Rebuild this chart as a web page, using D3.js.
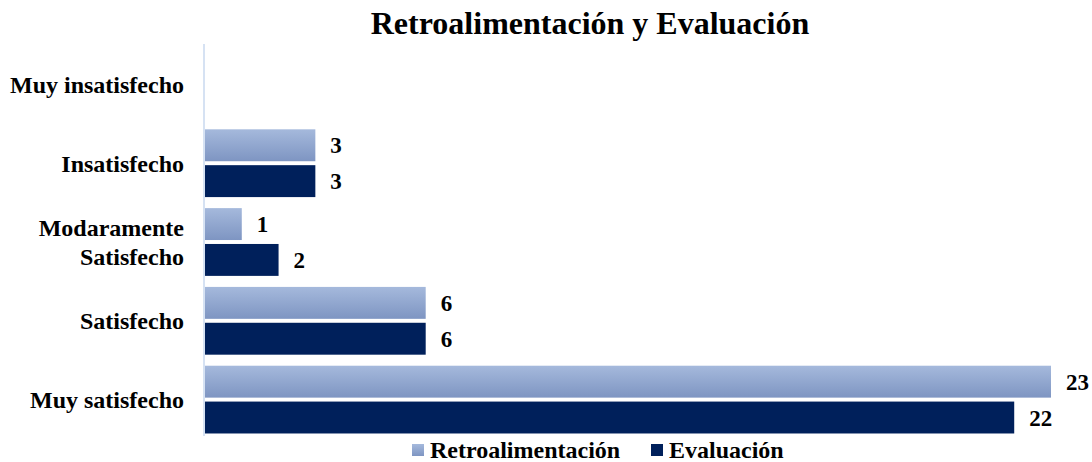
<!DOCTYPE html>
<html>
<head>
<meta charset="utf-8">
<script src="https://cdn.jsdelivr.net/npm/d3@7"></script>
<style>
  body { margin: 0; background: #fff; }
  text { font-family: "Liberation Serif", "Times New Roman", serif; font-weight: bold; fill: #000; }
</style>
</head>
<body>
<div id="chart"></div>
<script>
// categorias de arriba hacia abajo
const categorias = ["Muy insatisfecho", "Insatisfecho", "Modaramente\nSatisfecho", "Satisfecho", "Muy satisfecho"];
const series = ["Retroalimentación", "Evaluación"];
const retroalimentacion = [0, 3, 1, 6, 23];
const evaluacion = [0, 3, 2, 6, 22];

const W = 1092, H = 462;
const m = {top: 44, left: 205, bottom: 26, right: 0};

const svg = d3.select('#chart').append('svg')
  .attr('width', W).attr('height', H);

const defs = svg.append('defs');
const grad = defs.append('linearGradient').attr('id', 'gLight')
  .attr('x1', 0).attr('y1', 0).attr('x2', 0).attr('y2', 1);
grad.append('stop').attr('offset', '0%').attr('stop-color', '#a5b9dc');
grad.append('stop').attr('offset', '100%').attr('stop-color', '#7e95c2');

const colores = ['url(#gLight)', '#00205b'];

const x = d3.scaleLinear().domain([0, 23]).range([m.left, 1051]);
const y = d3.scaleBand().domain(categorias).range([45, 439]).paddingInner(0.14).paddingOuter(0.07);
const y1 = d3.scaleBand().domain(series).range([0, y.bandwidth()]).paddingInner(0.11);

// titulo
svg.append('text').attr('x', 590).attr('y', 34).attr('text-anchor', 'middle')
  .style('font-size', '32px').text('Retroalimentación y Evaluación');

// eje vertical
svg.append('line').attr('x1', m.left - 1).attr('x2', m.left - 1)
  .attr('y1', m.top).attr('y2', H - m.bottom)
  .attr('stroke', '#d6e2f3').attr('stroke-width', 2);

const datos = categorias.map((c, i) => ({cat: c, vals: [retroalimentacion[i], evaluacion[i]]}));

const g = svg.append('g').selectAll('g').data(datos).join('g')
  .attr('transform', d => `translate(0,${y(d.cat)})`);

g.selectAll('rect').data(d => d.vals.map((v, k) => ({v, k})).filter(e => e.v > 0))
  .join('rect')
  .attr('x', x(0))
  .attr('y', e => y1(series[e.k]))
  .attr('width', e => x(e.v) - x(0))
  .attr('height', y1.bandwidth())
  .attr('fill', e => colores[e.k]);

g.selectAll('text.val').data(d => d.vals.map((v, k) => ({v, k})).filter(e => e.v > 0))
  .join('text').attr('class', 'val')
  .attr('x', e => x(e.v) + 15)
  .attr('y', e => y1(series[e.k]) + y1.bandwidth() / 2)
  .attr('dy', '0.35em')
  .style('font-size', '23px')
  .text(e => e.v);

// etiquetas de categoria
svg.append('g').selectAll('text').data(categorias).join('text')
  .attr('x', 184)
  .attr('y', d => y(d) + y.bandwidth() / 2)
  .attr('text-anchor', 'end')
  .style('font-size', '24px')
  .each(function(d) {
    const lineas = d.split('\n');
    const t = d3.select(this);
    lineas.forEach((l, i) => {
      t.append('tspan').attr('x', 184)
        .attr('dy', i === 0 ? (0.35 - (lineas.length - 1) * 0.6) + 'em' : '1.2em')
        .text(l);
    });
  });

// leyenda
const leyenda = [{x: 412, s: 0}, {x: 651, s: 1}];
const lg = svg.append('g').selectAll('g').data(leyenda).join('g')
  .attr('transform', d => `translate(${d.x},444)`);
lg.append('rect').attr('width', 12).attr('height', 12).attr('fill', d => colores[d.s]);
lg.append('text').attr('x', 18).attr('y', 6).attr('dy', '0.35em')
  .style('font-size', '24px').text(d => series[d.s]);
</script>
</body>
</html>
